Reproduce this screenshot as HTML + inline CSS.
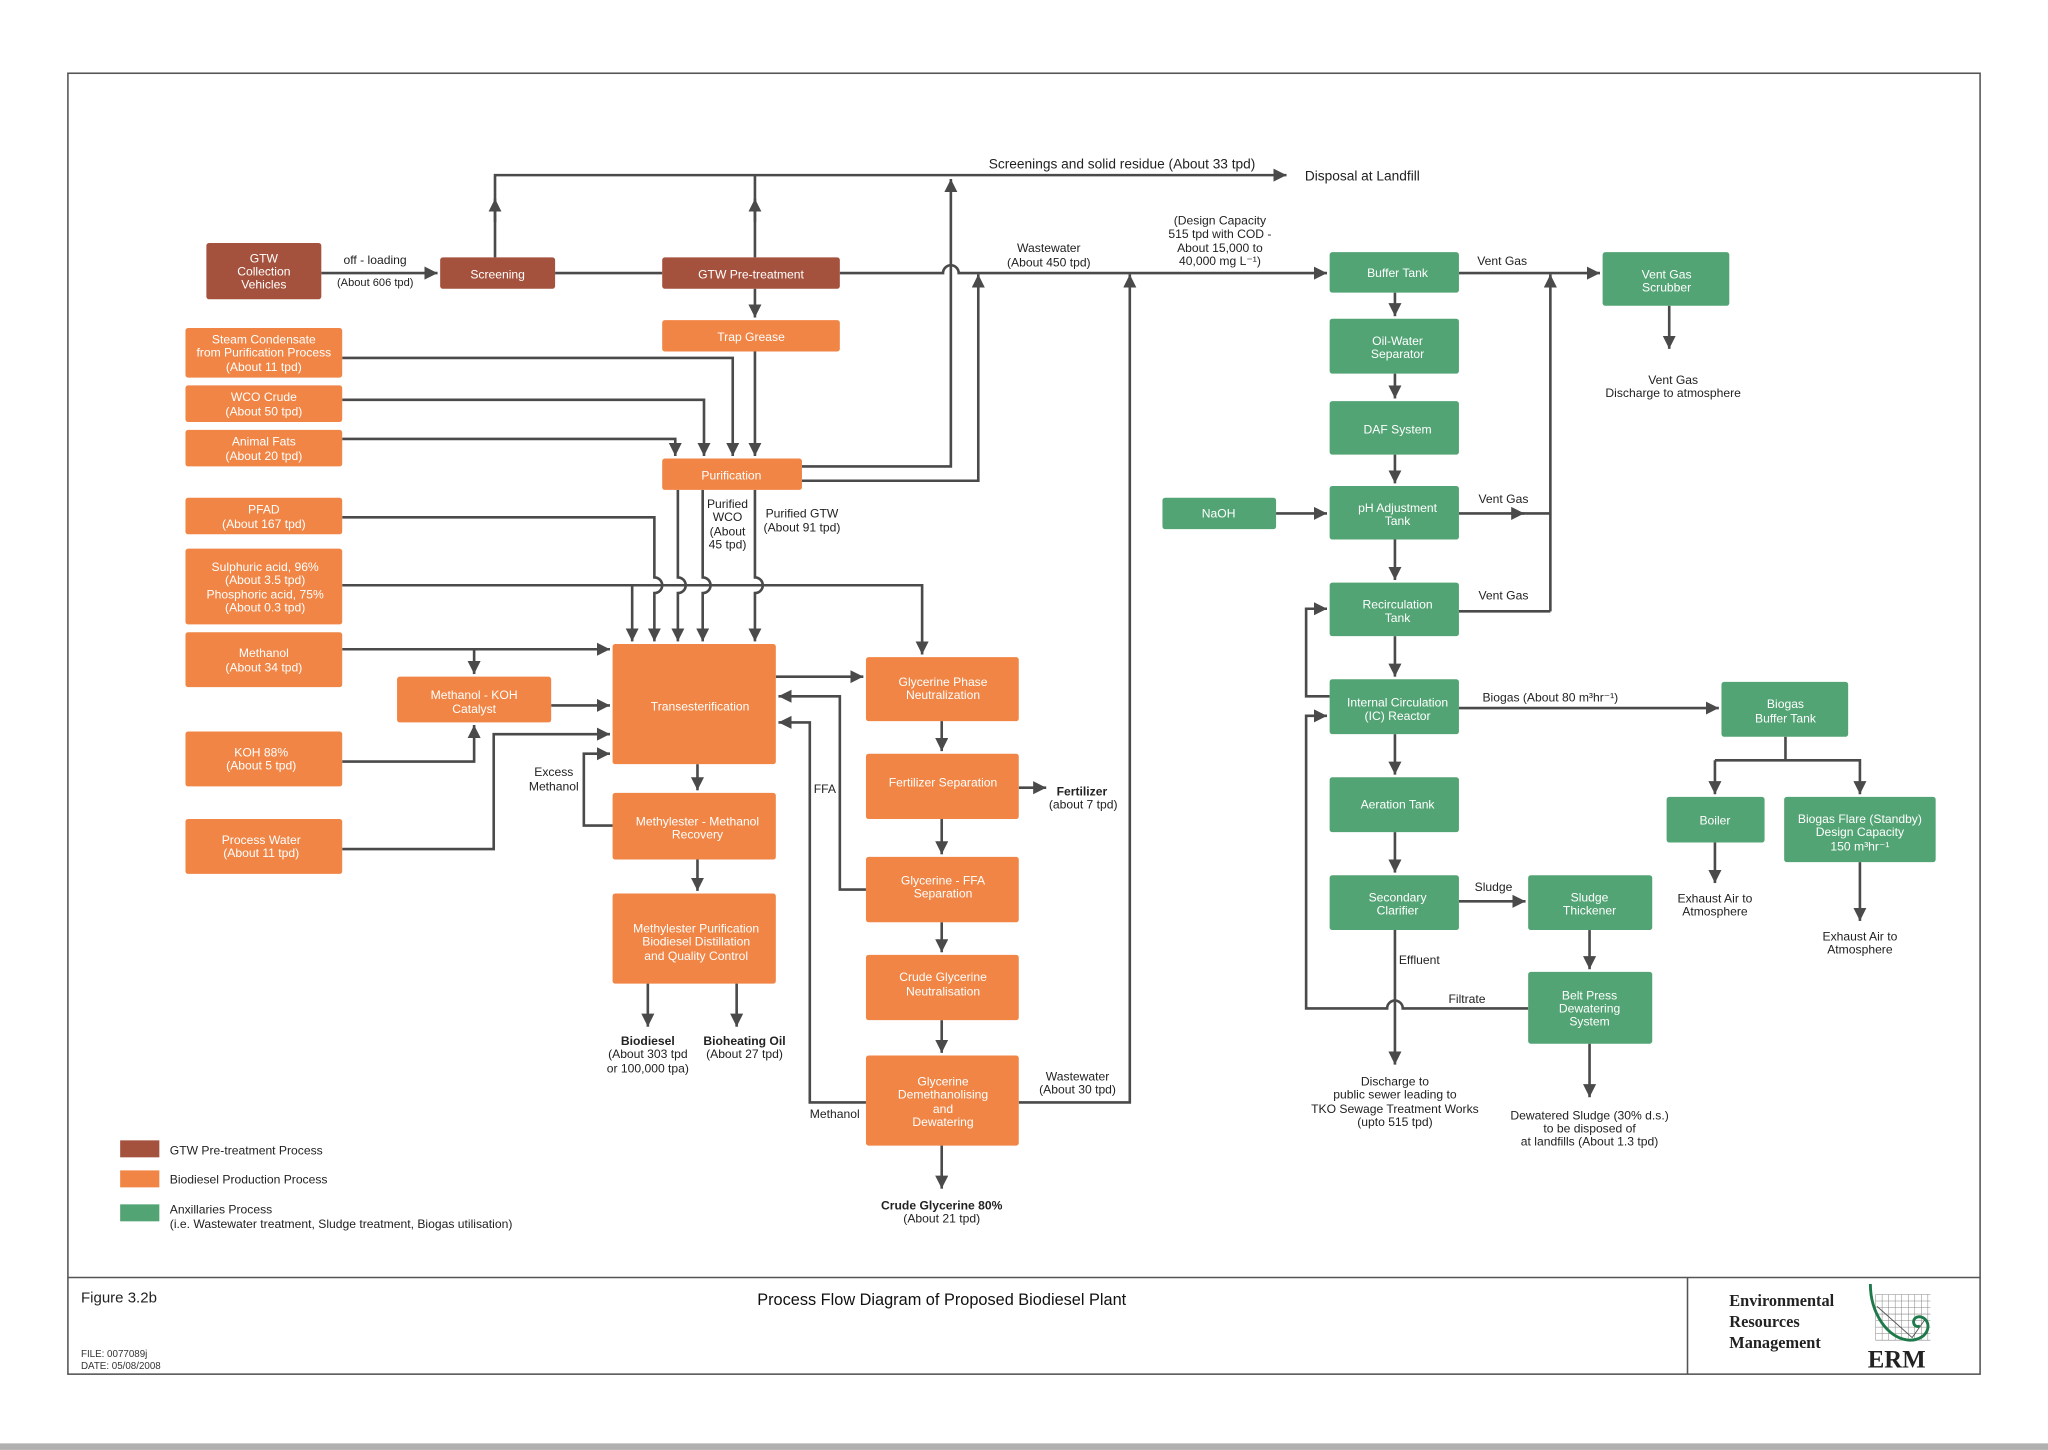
<!DOCTYPE html>
<html><head><meta charset="utf-8"><style>
html,body{margin:0;padding:0;background:#fff}
svg{display:block}
text{font-family:"Liberation Sans",Arial,sans-serif}
.b{fill:#a4523d}.o{fill:#f08545}.g{fill:#53a474}
.w{fill:#fff;font-size:9.3px;text-anchor:middle}
.t{fill:#222;font-size:9.3px}
.c{text-anchor:middle}
.l{fill:none;stroke:#4a4a4a;stroke-width:2}
</style></head><body>
<svg width="2048" height="1450" viewBox="0 0 1568 1110" xmlns="http://www.w3.org/2000/svg">
<defs><marker id="a" markerUnits="userSpaceOnUse" markerWidth="12" markerHeight="12" refX="10" refY="5" orient="auto"><path d="M0,0 L10,5 L0,10 z" fill="#4a4a4a"/></marker></defs>
<rect x="0" y="1105" width="1568" height="5" fill="#b0b0b0"/>
<rect x="52" y="56" width="1464" height="996" fill="none" stroke="#555" stroke-width="1.2"/>
<line x1="52" y1="978" x2="1516" y2="978" stroke="#555" stroke-width="1.2"/>
<line x1="1292" y1="978" x2="1292" y2="1052" stroke="#555" stroke-width="1.2"/>

<g class="l">
<path d="M379,197 V134 H985" marker-end="url(#a)"/>
<path d="M379,170 V152" marker-end="url(#a)"/>
<path d="M578,197 V134"/><path d="M578,170 V152" marker-end="url(#a)"/>
<path d="M614,357 H728 V137" marker-end="url(#a)"/>
<path d="M614,368 H749 V210" marker-end="url(#a)"/>
<path d="M246,209 H335" marker-end="url(#a)"/>
<path d="M425,209 H507"/>
<path d="M643,209 H722 a6,6 0 0 1 12,0 H1016" marker-end="url(#a)"/>
<path d="M578,221 V243" marker-end="url(#a)"/>
<path d="M578,269 V349" marker-end="url(#a)"/>
<path d="M262,274 H561 V349" marker-end="url(#a)"/>
<path d="M262,306 H539 V349" marker-end="url(#a)"/>
<path d="M262,336 H517 V349" marker-end="url(#a)"/>
<path d="M262,448 H706 V501" marker-end="url(#a)"/>
<path d="M484,448 V491" marker-end="url(#a)"/>
<path d="M262,396 H501 V442 a6,6 0 0 1 0,12 V491" marker-end="url(#a)"/>
<path d="M519,375 V442 a6,6 0 0 1 0,12 V491" marker-end="url(#a)"/>
<path d="M538,375 V442 a6,6 0 0 1 0,12 V491" marker-end="url(#a)"/>
<path d="M578,375 V442 a6,6 0 0 1 0,12 V491" marker-end="url(#a)"/>
<path d="M262,497 H467" marker-end="url(#a)"/>
<path d="M363,497 V516" marker-end="url(#a)"/>
<path d="M422,540 H467" marker-end="url(#a)"/>
<path d="M262,583 H363 V555" marker-end="url(#a)"/>
<path d="M262,650 H378 V562 H467" marker-end="url(#a)"/>
<path d="M469,632 H447 V577 H467" marker-end="url(#a)"/>
<path d="M534,585 V605" marker-end="url(#a)"/>
<path d="M534,658 V682" marker-end="url(#a)"/>
<path d="M496,753 V786" marker-end="url(#a)"/>
<path d="M564,753 V786" marker-end="url(#a)"/>
<path d="M594,518 H661" marker-end="url(#a)"/>
<path d="M663,681 H643 V533 H596" marker-end="url(#a)"/>
<path d="M663,844 H620 V553 H596" marker-end="url(#a)"/>
<path d="M721,552 V575" marker-end="url(#a)"/>
<path d="M721,627 V654" marker-end="url(#a)"/>
<path d="M721,706 V729" marker-end="url(#a)"/>
<path d="M721,781 V806" marker-end="url(#a)"/>
<path d="M721,877 V910" marker-end="url(#a)"/>
<path d="M780,603 H801" marker-end="url(#a)"/>
<path d="M780,844 H865 V210" marker-end="url(#a)"/>
<path d="M1117,209 H1225" marker-end="url(#a)"/>
<path d="M1187,468 V210" marker-end="url(#a)"/>
<path d="M1117,393 H1167" marker-end="url(#a)"/><path d="M1160,393 H1187"/>
<path d="M1117,468 H1187"/>
<path d="M1278,234 V267" marker-end="url(#a)"/>
<path d="M1068,224 V242" marker-end="url(#a)"/>
<path d="M1068,286 V305" marker-end="url(#a)"/>
<path d="M1068,348 V370" marker-end="url(#a)"/>
<path d="M1068,413 V444" marker-end="url(#a)"/>
<path d="M1068,487 V518" marker-end="url(#a)"/>
<path d="M1068,562 V593" marker-end="url(#a)"/>
<path d="M1068,637 V668" marker-end="url(#a)"/>
<path d="M1068,712 V815" marker-end="url(#a)"/>
<path d="M977,393 H1016" marker-end="url(#a)"/>
<path d="M1018,533 H1000 V466 H1016" marker-end="url(#a)"/>
<path d="M1170,772 H1074 a6,6 0 0 0 -12,0 H1000 V548 H1016" marker-end="url(#a)"/>
<path d="M1117,542 H1316" marker-end="url(#a)"/>
<path d="M1367,564 V582"/>
<path d="M1313,582 H1424 V608" marker-end="url(#a)"/>
<path d="M1313,582 V608" marker-end="url(#a)"/>
<path d="M1313,645 V676" marker-end="url(#a)"/>
<path d="M1424,660 V705" marker-end="url(#a)"/>
<path d="M1117,690 H1168" marker-end="url(#a)"/>
<path d="M1217,712 V742" marker-end="url(#a)"/>
<path d="M1217,799 V840" marker-end="url(#a)"/>
</g>

<rect class="b" x="158" y="186" width="88" height="43" rx="2"/>
<text class="w" x="202" y="201">GTW</text><text class="w" x="202" y="211">Collection</text><text class="w" x="202" y="221">Vehicles</text>
<rect class="b" x="337" y="197" width="88" height="24" rx="2"/><text class="w" x="381" y="213">Screening</text>
<rect class="b" x="507" y="197" width="136" height="24" rx="2"/><text class="w" x="575" y="213">GTW Pre-treatment</text>

<g>
<rect class="o" x="507" y="245" width="136" height="24" rx="2"/><text class="w" x="575" y="261">Trap Grease</text>
<rect class="o" x="142" y="251" width="120" height="38" rx="2"/><text class="w" x="202" y="263">Steam Condensate</text><text class="w" x="202" y="273">from Purification Process</text><text class="w" x="202" y="284">(About 11 tpd)</text>
<rect class="o" x="142" y="295" width="120" height="28" rx="2"/><text class="w" x="202" y="307">WCO Crude</text><text class="w" x="202" y="318">(About 50 tpd)</text>
<rect class="o" x="142" y="329" width="120" height="28" rx="2"/><text class="w" x="202" y="341">Animal Fats</text><text class="w" x="202" y="352">(About 20 tpd)</text>
<rect class="o" x="507" y="351" width="107" height="24" rx="2"/><text class="w" x="560" y="367">Purification</text>
<rect class="o" x="142" y="381" width="120" height="28" rx="2"/><text class="w" x="202" y="393">PFAD</text><text class="w" x="202" y="404">(About 167 tpd)</text>
<rect class="o" x="142" y="420" width="120" height="58" rx="2"/><text class="w" x="203" y="437">Sulphuric acid, 96%</text><text class="w" x="203" y="447">(About 3.5 tpd)</text><text class="w" x="203" y="458">Phosphoric acid, 75%</text><text class="w" x="203" y="468">(About 0.3 tpd)</text>
<rect class="o" x="142" y="484" width="120" height="42" rx="2"/><text class="w" x="202" y="503">Methanol</text><text class="w" x="202" y="514">(About 34 tpd)</text>
<rect class="o" x="304" y="518" width="118" height="35" rx="2"/><text class="w" x="363" y="535">Methanol - KOH</text><text class="w" x="363" y="546">Catalyst</text>
<rect class="o" x="142" y="560" width="120" height="42" rx="2"/><text class="w" x="200" y="579">KOH 88%</text><text class="w" x="200" y="589">(About 5 tpd)</text>
<rect class="o" x="142" y="627" width="120" height="42" rx="2"/><text class="w" x="200" y="646">Process Water</text><text class="w" x="200" y="656">(About 11 tpd)</text>
<rect class="o" x="469" y="493" width="125" height="92" rx="2"/><text class="w" x="536" y="544">Transesterification</text>
<rect class="o" x="469" y="607" width="125" height="51" rx="2"/><text class="w" x="534" y="632">Methylester - Methanol</text><text class="w" x="534" y="642">Recovery</text>
<rect class="o" x="469" y="684" width="125" height="69" rx="2"/><text class="w" x="533" y="714">Methylester Purification</text><text class="w" x="533" y="724">Biodiesel Distillation</text><text class="w" x="533" y="735">and Quality Control</text>
<rect class="o" x="663" y="503" width="117" height="49" rx="2"/><text class="w" x="722" y="525">Glycerine Phase</text><text class="w" x="722" y="535">Neutralization</text>
<rect class="o" x="663" y="577" width="117" height="50" rx="2"/><text class="w" x="722" y="602">Fertilizer Separation</text>
<rect class="o" x="663" y="656" width="117" height="50" rx="2"/><text class="w" x="722" y="677">Glycerine - FFA</text><text class="w" x="722" y="687">Separation</text>
<rect class="o" x="663" y="731" width="117" height="50" rx="2"/><text class="w" x="722" y="751">Crude Glycerine</text><text class="w" x="722" y="762">Neutralisation</text>
<rect class="o" x="663" y="808" width="117" height="69" rx="2"/><text class="w" x="722" y="831">Glycerine</text><text class="w" x="722" y="841">Demethanolising</text><text class="w" x="722" y="852">and</text><text class="w" x="722" y="862">Dewatering</text>
</g>

<g>
<rect class="g" x="1018" y="193" width="99" height="31" rx="2"/><text class="w" x="1070" y="212">Buffer Tank</text>
<rect class="g" x="1018" y="244" width="99" height="42" rx="2"/><text class="w" x="1070" y="264">Oil-Water</text><text class="w" x="1070" y="274">Separator</text>
<rect class="g" x="1018" y="307" width="99" height="41" rx="2"/><text class="w" x="1070" y="332">DAF System</text>
<rect class="g" x="1018" y="372" width="99" height="41" rx="2"/><text class="w" x="1070" y="392">pH Adjustment</text><text class="w" x="1070" y="402">Tank</text>
<rect class="g" x="890" y="381" width="87" height="24" rx="2"/><text class="w" x="933" y="396">NaOH</text>
<rect class="g" x="1018" y="446" width="99" height="41" rx="2"/><text class="w" x="1070" y="466">Recirculation</text><text class="w" x="1070" y="476">Tank</text>
<rect class="g" x="1018" y="520" width="99" height="42" rx="2"/><text class="w" x="1070" y="541">Internal Circulation</text><text class="w" x="1070" y="551">(IC) Reactor</text>
<rect class="g" x="1018" y="595" width="99" height="42" rx="2"/><text class="w" x="1070" y="619">Aeration Tank</text>
<rect class="g" x="1018" y="670" width="99" height="42" rx="2"/><text class="w" x="1070" y="690">Secondary</text><text class="w" x="1070" y="700">Clarifier</text>
<rect class="g" x="1170" y="670" width="95" height="42" rx="2"/><text class="w" x="1217" y="690">Sludge</text><text class="w" x="1217" y="700">Thickener</text>
<rect class="g" x="1170" y="744" width="95" height="55" rx="2"/><text class="w" x="1217" y="765">Belt Press</text><text class="w" x="1217" y="775">Dewatering</text><text class="w" x="1217" y="785">System</text>
<rect class="g" x="1227" y="193" width="97" height="41" rx="2"/><text class="w" x="1276" y="213">Vent Gas</text><text class="w" x="1276" y="223">Scrubber</text>
<rect class="g" x="1318" y="522" width="97" height="42" rx="2"/><text class="w" x="1367" y="542">Biogas</text><text class="w" x="1367" y="553">Buffer Tank</text>
<rect class="g" x="1276" y="610" width="75" height="35" rx="2"/><text class="w" x="1313" y="631">Boiler</text>
<rect class="g" x="1366" y="610" width="116" height="50" rx="2"/><text class="w" x="1424" y="630">Biogas Flare (Standby)</text><text class="w" x="1424" y="640">Design Capacity</text><text class="w" x="1424" y="651">150 m³hr⁻¹</text>
</g>

<g class="t">
<text x="757" y="129" font-size="10.5">Screenings and solid residue (About 33 tpd)</text>
<text x="999" y="138" font-size="10.5">Disposal at Landfill</text>
<text x="263" y="202">off - loading</text>
<text x="258" y="219" font-size="8.5">(About 606 tpd)</text>
<text class="c" x="803" y="193">Wastewater</text><text class="c" x="803" y="204">(About 450 tpd)</text>
<text class="c" x="934" y="172">(Design Capacity</text><text class="c" x="934" y="182">515 tpd with COD -</text><text class="c" x="934" y="193">About 15,000 to</text><text class="c" x="934" y="203">40,000 mg L⁻¹)</text>
<text class="c" x="557" y="389">Purified</text><text class="c" x="557" y="399">WCO</text><text class="c" x="557" y="410">(About</text><text class="c" x="557" y="420">45 tpd)</text>
<text class="c" x="614" y="396">Purified GTW</text><text class="c" x="614" y="407">(About 91 tpd)</text>
<text class="c" x="424" y="594">Excess</text><text class="c" x="424" y="605">Methanol</text>
<text x="623" y="607">FFA</text>
<text x="620" y="856">Methanol</text>
<text x="809" y="609" font-weight="bold">Fertilizer</text><text x="803" y="619">(about 7 tpd)</text>
<text class="c" x="825" y="827">Wastewater</text><text class="c" x="825" y="837">(About 30 tpd)</text>
<text class="c" x="496" y="800" font-weight="bold">Biodiesel</text><text class="c" x="496" y="810">(About 303 tpd</text><text class="c" x="496" y="821">or 100,000 tpa)</text>
<text class="c" x="570" y="800" font-weight="bold">Bioheating Oil</text><text class="c" x="570" y="810">(About 27 tpd)</text>
<text class="c" x="721" y="926" font-weight="bold">Crude Glycerine 80%</text><text class="c" x="721" y="936">(About 21 tpd)</text>
<text x="1131" y="203">Vent Gas</text>
<text x="1132" y="385">Vent Gas</text>
<text x="1132" y="459">Vent Gas</text>
<text class="c" x="1281" y="294">Vent Gas</text><text class="c" x="1281" y="304">Discharge to atmosphere</text>
<text x="1135" y="537">Biogas (About 80 m³hr⁻¹)</text>
<text x="1129" y="682">Sludge</text>
<text x="1071" y="738">Effluent</text>
<text x="1109" y="768">Filtrate</text>
<text class="c" x="1313" y="691">Exhaust Air to</text><text class="c" x="1313" y="701">Atmosphere</text>
<text class="c" x="1424" y="720">Exhaust Air to</text><text class="c" x="1424" y="730">Atmosphere</text>
<text class="c" x="1068" y="831">Discharge to</text><text class="c" x="1068" y="841">public sewer leading to</text><text class="c" x="1068" y="852">TKO Sewage Treatment Works</text><text class="c" x="1068" y="862">(upto 515 tpd)</text>
<text class="c" x="1217" y="857">Dewatered Sludge (30% d.s.)</text><text class="c" x="1217" y="867">to be disposed of</text><text class="c" x="1217" y="877">at landfills (About 1.3 tpd)</text>
</g>

<rect class="b" x="92" y="873" width="30" height="13"/>
<rect class="o" x="92" y="896" width="30" height="13"/>
<rect class="g" x="92" y="922" width="30" height="13"/>
<g class="t" font-size="9">
<text x="130" y="884">GTW Pre-treatment Process</text>
<text x="130" y="906">Biodiesel Production Process</text>
<text x="130" y="929">Anxillaries Process</text>
<text x="130" y="940">(i.e. Wastewater treatment, Sludge treatment, Biogas utilisation)</text>
</g>

<text x="62" y="997" fill="#222" font-size="11.5">Figure 3.2b</text>
<text x="721" y="999" fill="#111" font-size="12.5" text-anchor="middle">Process Flow Diagram of Proposed Biodiesel Plant</text>
<text x="62" y="1039" fill="#333" font-size="7.5">FILE: 0077089j</text>
<text x="62" y="1048" fill="#333" font-size="7.5">DATE: 05/08/2008</text>
<g font-weight="bold" fill="#222" font-size="12.5">
<text x="1324" y="1000" style="font-family:'Liberation Serif',serif">Environmental</text>
<text x="1324" y="1016" style="font-family:'Liberation Serif',serif">Resources</text>
<text x="1324" y="1032" style="font-family:'Liberation Serif',serif">Management</text>
<text x="1430" y="1047" font-size="19" style="font-family:'Liberation Serif',serif">ERM</text>
</g>
<g stroke="#888" stroke-width="0.4" fill="none">
<path d="M1436,991 H1478 M1436,996 H1478 M1436,1001 H1478 M1436,1006 H1478 M1436,1011 H1478 M1436,1016 H1478 M1436,1021 H1478 M1436,1026 H1478"/>
<path d="M1436,991 V1026 M1441,991 V1026 M1446,991 V1026 M1451,991 V1026 M1456,991 V1026 M1461,991 V1026 M1466,991 V1026 M1471,991 V1026 M1476,991 V1026"/>
<path d="M1437,1000 L1464,1024 L1474,1010" stroke="#555" stroke-width="0.7"/>
</g>
<path d="M1432,983 C1432,1005 1445,1025 1462,1026 C1478,1026 1480,1010 1470,1008 C1462,1008 1465,1018 1470,1015" fill="none" stroke="#1e7a4a" stroke-width="2.2"/>
</svg>
</body></html>
